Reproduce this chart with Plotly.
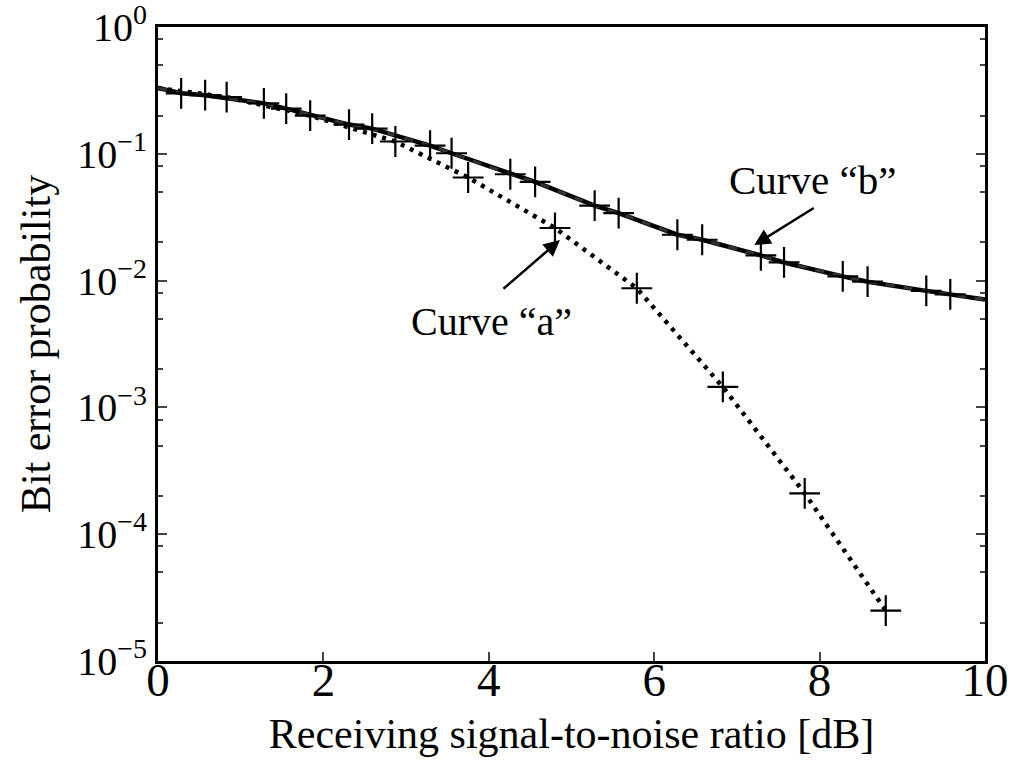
import plotly.graph_objects as go

# ---- data ----
start_x = 0.0
start_y = 0.33
end_x = 10.0
end_y = 0.0071

# curve "b" — solid series (markers)
b1_x = [0.28, 1.28, 2.31, 3.29, 4.26, 5.28, 6.28, 7.29, 8.28, 9.29]
b1_y = [0.30, 0.25, 0.17, 0.116, 0.069, 0.039, 0.023, 0.0158, 0.0108, 0.0083]
# curve "b" — dashed series (markers)
b2_x = [0.57, 1.55, 2.59, 3.55, 4.56, 5.57, 6.58, 7.57, 8.58, 9.58]
b2_y = [0.29, 0.227, 0.158, 0.101, 0.060, 0.034, 0.021, 0.0139, 0.0098, 0.0078]
# curve "a" — dotted
a_x = [0.83, 1.84, 2.87, 3.75, 4.80, 5.79, 6.83, 7.82, 8.80]
a_y = [0.28, 0.20, 0.125, 0.065, 0.026, 0.0087, 0.00145, 0.00021, 0.000025]

x_ticks = [0, 2, 4, 6, 8, 10]
y_tickvals = [1, 1e-1, 1e-2, 1e-3, 1e-4, 1e-5]
y_ticktext = ["10<sup>0</sup>", "10<sup>\u22121</sup>", "10<sup>\u22122</sup>",
              "10<sup>\u22123</sup>", "10<sup>\u22124</sup>", "10<sup>\u22125</sup>"]
y_minor = [m * 10.0 ** e for e in range(-5, 0) for m in (2, 5, 8)]

x_title = "Receiving signal-to-noise ratio [dB]"
y_title = "Bit error probability"
label_a = "Curve \u201ca\u201d"
label_b = "Curve \u201cb\u201d"

FONT = "Liberation Serif"

# combined line path for curve b
bl = sorted(list(zip(b1_x, b1_y)) + list(zip(b2_x, b2_y)))
b_line_x = [start_x] + [p[0] for p in bl] + [end_x]
b_line_y = [start_y] + [p[1] for p in bl] + [end_y]
a_line_x = [start_x] + a_x
a_line_y = [start_y] + a_y

fig = go.Figure()

mk = dict(symbol="cross-thin", size=22, line=dict(color="black", width=2.2), color="black")

fig.add_trace(go.Scatter(x=a_line_x, y=a_line_y, mode="lines",
                         line=dict(color="black", width=4.5, dash="4px,6px"),
                         showlegend=False))
fig.add_trace(go.Scatter(x=b_line_x, y=b_line_y, mode="lines",
                         line=dict(color="black", width=4.5), showlegend=False))
fig.add_trace(go.Scatter(x=b_line_x, y=b_line_y, mode="lines",
                         line=dict(color="#333333", width=3, dash="dash"), showlegend=False))
fig.add_trace(go.Scatter(x=b1_x, y=b1_y, mode="markers", marker=mk, showlegend=False))
fig.add_trace(go.Scatter(x=b2_x, y=b2_y, mode="markers", marker=mk, showlegend=False))
fig.add_trace(go.Scatter(x=a_x, y=a_y, mode="markers", marker=mk, showlegend=False))

# labels
fig.add_annotation(x=7.92, y=-1.21, xref="x", yref="y", text=label_b, showarrow=False,
                   font=dict(family=FONT, size=41, color="black"))
fig.add_annotation(x=4.03, y=-2.32, xref="x", yref="y", text=label_a, showarrow=False,
                   font=dict(family=FONT, size=40, color="black"))
# arrows
fig.add_annotation(x=7.21, y=-1.72, xref="x", yref="y", text="", showarrow=True,
                   ax=61, ay=-38, arrowhead=2, arrowsize=1.3, arrowwidth=2.5, arrowcolor="black")
fig.add_annotation(x=4.86, y=-1.68, xref="x", yref="y", text="", showarrow=True,
                   ax=-58, ay=50, arrowhead=2, arrowsize=1.3, arrowwidth=2.5, arrowcolor="black")

fig.update_xaxes(range=[0, 10], tickvals=x_ticks, ticks="inside", ticklen=9, tickwidth=2,
                 showline=True, linecolor="black", linewidth=3, mirror=True,
                 showgrid=False, zeroline=False, ticklabelstandoff=-24,
                 ticklabeloverflow="allow", automargin=False,
                 tickfont=dict(family=FONT, size=47, color="black"),
                 title=dict(text=x_title, font=dict(family=FONT, size=42, color="black"), standoff=14))
fig.update_yaxes(type="log", range=[-5, 0], tickvals=y_tickvals, ticktext=y_ticktext,
                 ticks="inside", ticklen=9, tickwidth=2,
                 minor=dict(tickvals=y_minor, ticks="inside", ticklen=5, tickwidth=2, showgrid=False),
                 showline=True, linecolor="black", linewidth=3, mirror="ticks",
                 showgrid=False, zeroline=False, ticklabeloverflow="allow", automargin=False,
                 tickfont=dict(family=FONT, size=40, color="black"),
                 title=dict(text=y_title, font=dict(family=FONT, size=42, color="black"), standoff=14))

fig.update_layout(width=1013, height=779, plot_bgcolor="white", paper_bgcolor="white",
                  margin=dict(l=158, r=28, t=27, b=118))

fig.write_html("out.html", config={"displayModeBar": False},
               post_script="document.body.style.margin='0px';document.body.style.overflow='hidden';")
